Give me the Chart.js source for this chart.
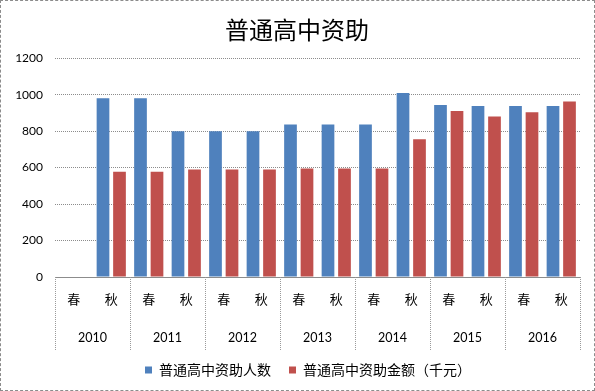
<!DOCTYPE html>
<html>
<head>
<meta charset="utf-8">
<script src="https://cdn.jsdelivr.net/npm/chart.js@4"></script>
<style>
    html, body { margin: 0; padding: 0; background: #fff; }
    .chart-wrap { width: 595px; height: 391px; box-sizing: border-box; border: 1px dashed #8c8c8c; }
    canvas { display: block; }
</style>
</head>
<body>
<div class="chart-wrap"><canvas id="chart" width="593" height="389"></canvas></div>
<script>
const seasons = ["春", "秋", "春", "秋", "春", "秋", "春", "秋", "春", "秋", "春", "秋", "春", "秋"];
const years = ["2010", "2011", "2012", "2013", "2014", "2015", "2016"];
const people = [null, 980, 980, 800, 800, 800, 837, 837, 837, 1009, 943, 938, 938, 938];
const amount = [null, 577, 577, 590, 590, 590, 595, 595, 595, 755, 911, 880, 903, 963];
const yMin = 0;
const yMax = 1200;
const yStep = 200;

const _CJK = "'Noto Sans CJK SC', sans-serif";
const _NUM = "Lato, 'Liberation Sans', sans-serif";
const _LEGEND_SHIFT = 11;     // 범례만 살짝 오른쪽으로

/**
 * 연도 구분선 (x축 아래로 내려가는 세로 점선)
 */
const yearLines = {
    id: "yearLines",
    afterLayout(chart) {
        chart.legend.left += _LEGEND_SHIFT;
        chart.legend.right += _LEGEND_SHIFT;
    },
    afterDraw(chart) {
        const x2 = chart.scales.x2;
        const ctx = chart.ctx;
        const top = chart.chartArea.bottom;
        const bottom = x2.bottom + 6;
        ctx.save();
        ctx.strokeStyle = "#9a9a9a";
        ctx.lineWidth = 1;
        ctx.setLineDash([1, 1]);
        for (let i = 0; i <= years.length; i++) {
            const px = Math.round(x2.getPixelForValue(i - 0.5)) + 0.5;
            ctx.beginPath();
            ctx.moveTo(px, top);
            ctx.lineTo(px, bottom);
            ctx.stroke();
        }
        ctx.restore();
    }
};

new Chart(document.getElementById("chart"), {
    type: "bar",
    data: {
        labels: seasons,
        datasets: [{
            label: "普通高中资助人数",
            data: people,
            backgroundColor: "#4F81BD",
            categoryPercentage: 0.88,
            barPercentage: 0.77,
        }, {
            label: "普通高中资助金额（千元）",
            data: amount,
            backgroundColor: "#C0504D",
            categoryPercentage: 0.88,
            barPercentage: 0.77,
        }]
    },
    options: {
        responsive: false,
        animation: false,
        layout: { padding: { left: 13, right: 14, top: 0, bottom: 3 } },
        plugins: {
            title: {
                display: true,
                text: "普通高中资助",
                color: "#000",
                font: { family: _CJK, size: 24, weight: "normal" },
                padding: { top: 14, bottom: 14.4 }
            },
            legend: {
                position: "bottom",
                labels: {
                    boxWidth: 7,
                    boxHeight: 7,
                    padding: 18,
                    color: "#000",
                    font: { family: _CJK, size: 14 }
                }
            },
            tooltip: { enabled: false }
        },
        scales: {
            x: {
                weight: 1,
                grid: { display: false, drawTicks: false },
                border: { display: true, color: "#8c8c8c" },
                ticks: { color: "#000", padding: 14, font: { family: _CJK, size: 13 } },
                afterFit: (s) => { s.height = 40; }
            },
            x2: {
                type: "category",
                labels: years,
                position: "bottom",
                weight: 2,
                offset: true,
                grid: { display: false, drawTicks: false },
                border: { display: false },
                ticks: { color: "#000", padding: 13, font: { family: _NUM, size: 12.5 } },
                afterFit: (s) => { s.height = 28; }
            },
            y: {
                min: yMin,
                max: yMax,
                ticks: {
                    stepSize: yStep,
                    format: { useGrouping: false },
                    color: "#000",
                    padding: 12,
                    font: { family: _NUM, size: 12 }
                },
                grid: { color: "#8c8c8c", drawTicks: false },
                border: { display: false, dash: [1, 1] },
                afterFit: (s) => { s.width = 41; }
            }
        }
    },
    plugins: [yearLines]
});
</script>
</body>
</html>
